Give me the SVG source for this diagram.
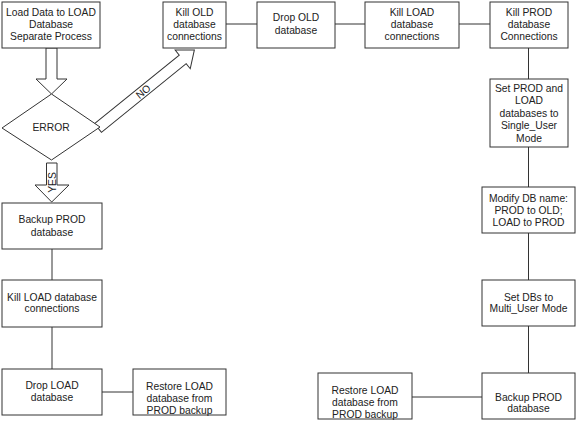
<svg xmlns="http://www.w3.org/2000/svg" width="576" height="422" viewBox="0 0 576 422">
<style>
.box{fill:#fff;stroke:#333;stroke-width:1}
.ln{stroke:#333;stroke-width:1;fill:none}
.arr{fill:#fff;stroke:#333;stroke-width:1;stroke-linejoin:miter}
text{font-family:"Liberation Sans",Arial,sans-serif;font-size:10.3px;fill:#222;text-anchor:middle}
</style>
<rect width="576" height="422" fill="#fff"/>
<g id="connectors">
<line class="ln" x1="226" y1="24" x2="257" y2="24"/>
<line class="ln" x1="335" y1="24" x2="365" y2="24"/>
<line class="ln" x1="459" y1="24" x2="490" y2="24"/>
<line class="ln" x1="528.5" y1="48" x2="528.5" y2="79"/>
<line class="ln" x1="528.5" y1="147" x2="528.5" y2="187"/>
<line class="ln" x1="528.5" y1="233" x2="528.5" y2="280"/>
<line class="ln" x1="528.5" y1="326" x2="528.5" y2="373"/>
<line class="ln" x1="412" y1="397" x2="482" y2="397"/>
<line class="ln" x1="52" y1="249" x2="52" y2="280"/>
<line class="ln" x1="52" y1="327" x2="52" y2="369"/>
<line class="ln" x1="102" y1="392" x2="133" y2="392"/>
<polygon class="arr" points="46,48 57,48 57,79 67,79 51.5,94 36,79 46,79"/>
<polygon class="arr" points="46.5,163 57,163 57,185 69,185 51.7,202 35,185 46.5,185"/>
<g transform="translate(98,128) rotate(-39)">
<polygon class="arr" points="0,-5.5 109,-5.5 109,-12 124,0 109,12 109,5.5 0,5.5"/>
<text x="58" y="3.7">NO</text>
</g>
<text transform="translate(55.5,182.5) rotate(-90)" x="0" y="0">YES</text>
</g>
<g id="n1"><rect class="box" x="2" y="2" width="98" height="46"/>
<text x="51" y="15.8">Load Data to LOAD</text><text x="51" y="27.8">Database</text><text x="51" y="39.8">Separate Process</text></g>
<g id="error"><polygon class="box" points="51.5,94 100,127 51.5,160 2,128"/>
<text x="51" y="131">ERROR</text></g>
<g id="killold"><rect class="box" x="163" y="2" width="63" height="46"/>
<text x="194.5" y="15.8">Kill OLD</text><text x="194.5" y="27.8">database</text><text x="194.5" y="39.8">connections</text></g>
<g id="dropold"><rect class="box" x="257" y="2" width="78" height="46"/>
<text x="296" y="21.3">Drop OLD</text><text x="296" y="33.8">database</text></g>
<g id="killload"><rect class="box" x="365" y="2" width="94" height="46"/>
<text x="412" y="15.8">Kill LOAD</text><text x="412" y="27.8">database</text><text x="412" y="39.8">connections</text></g>
<g id="killprod"><rect class="box" x="490" y="2" width="78" height="46"/>
<text x="529" y="15.8">Kill PROD</text><text x="529" y="27.8">database</text><text x="529" y="39.8">Connections</text></g>
<g id="setprod"><rect class="box" x="490" y="79" width="78" height="68"/>
<text x="529" y="91.8">Set PROD and</text><text x="529" y="104.3">LOAD</text><text x="529" y="116.8">databases to</text><text x="529" y="129.3">Single_User</text><text x="529" y="141.8">Mode</text></g>
<g id="modify"><rect class="box" x="482" y="187" width="93" height="46"/>
<text x="528.5" y="201.8">Modify DB name:</text><text x="528.5" y="213.8">PROD to OLD;</text><text x="528.5" y="225.8">LOAD to PROD</text></g>
<g id="setdbs"><rect class="box" x="482" y="280" width="93" height="46"/>
<text x="528.5" y="300.5">Set DBs to</text><text x="528.5" y="312">Multi_User Mode</text></g>
<g id="backupr"><rect class="box" x="482" y="373" width="93" height="46"/>
<text x="528.5" y="400.8">Backup PROD</text><text x="528.5" y="412.3">database</text></g>
<g id="restorer"><rect class="box" x="318" y="373" width="94" height="46"/>
<text x="365" y="393.8">Restore LOAD</text><text x="365" y="405.8">database from</text><text x="365" y="417.8">PROD backup</text></g>
<g id="backupl"><rect class="box" x="2" y="203" width="100" height="46"/>
<text x="52" y="222.8">Backup PROD</text><text x="52" y="235.8">database</text></g>
<g id="killloadl"><rect class="box" x="2" y="280" width="100" height="47"/>
<text x="52" y="300.8">Kill LOAD database</text><text x="52" y="311.8">connections</text></g>
<g id="dropload"><rect class="box" x="2" y="369" width="100" height="46"/>
<text x="52" y="388.8">Drop LOAD</text><text x="52" y="400.8">database</text></g>
<g id="restorel"><rect class="box" x="133" y="369" width="93" height="46"/>
<text x="179.5" y="389.8">Restore LOAD</text><text x="179.5" y="401.8">database from</text><text x="179.5" y="413.8">PROD backup</text></g>
</svg>
